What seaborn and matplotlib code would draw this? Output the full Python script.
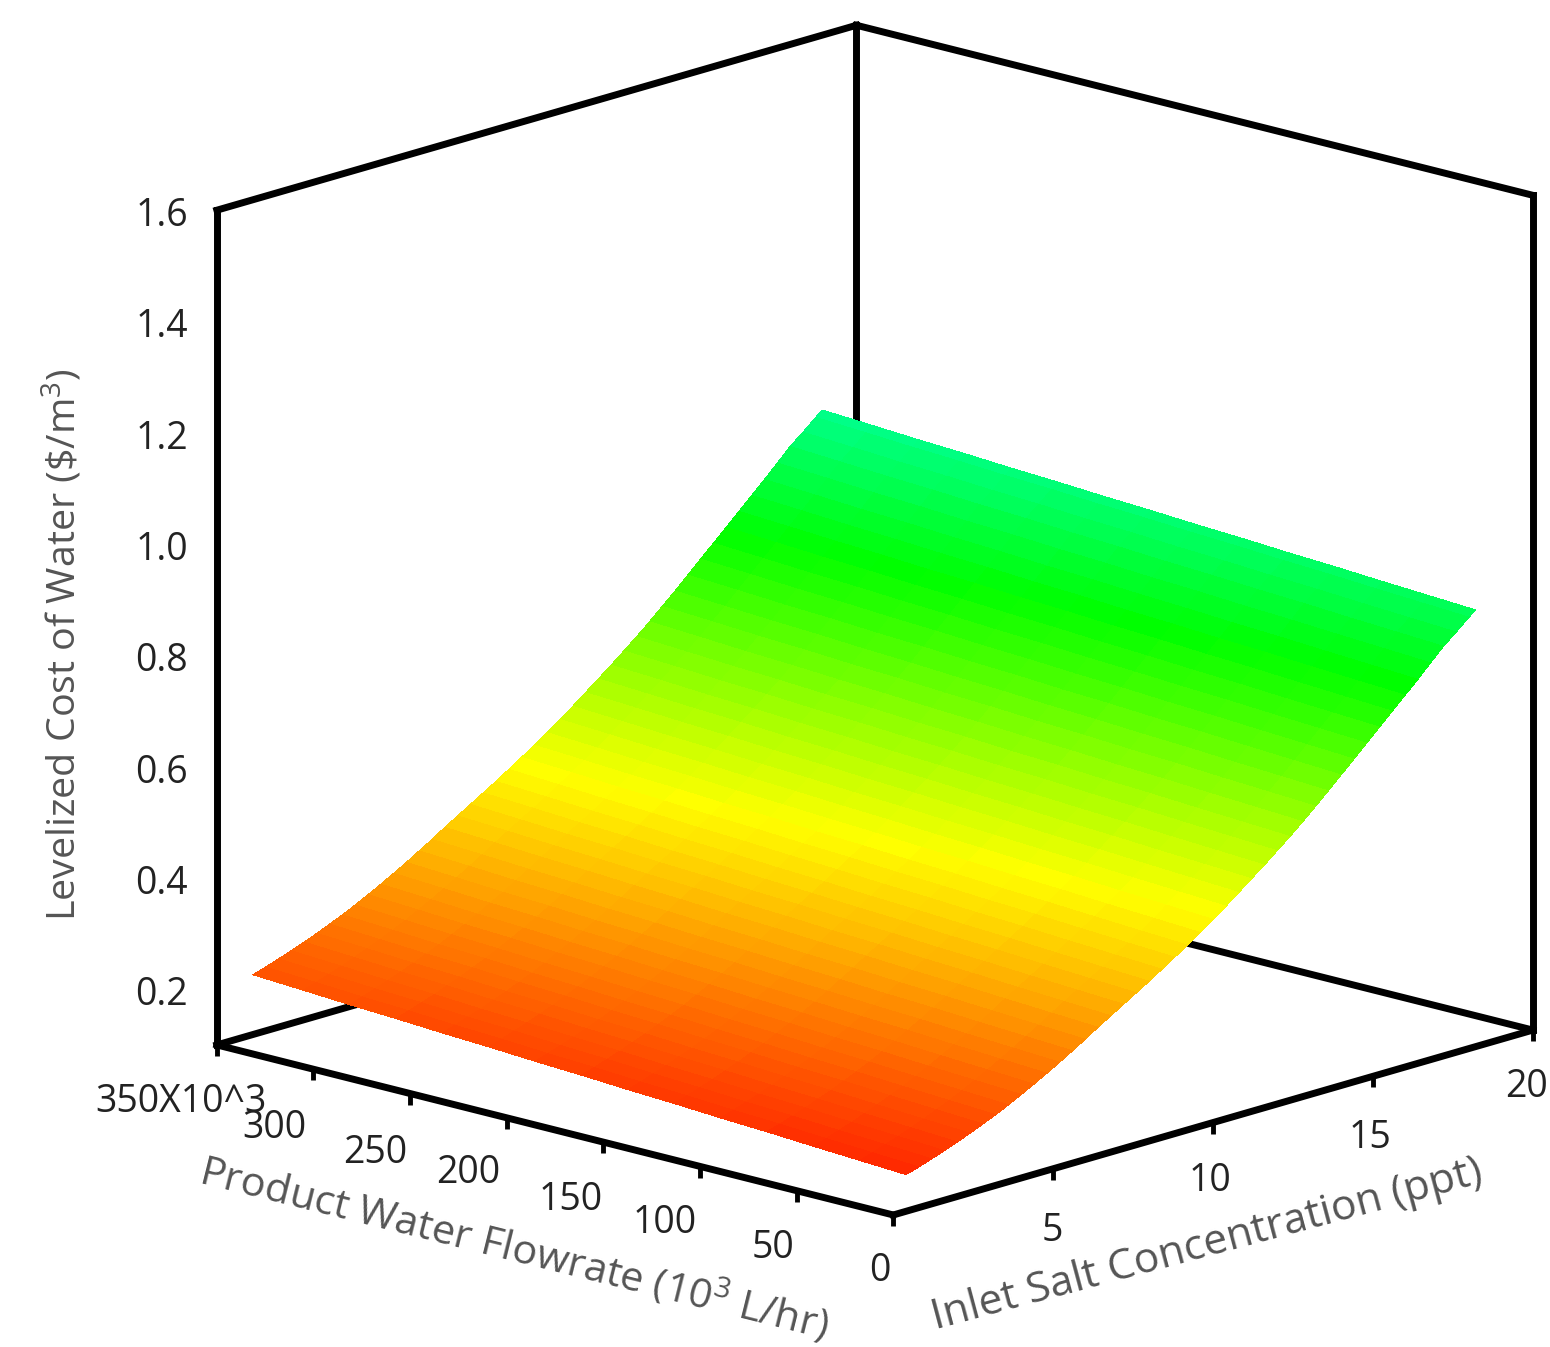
import matplotlib
matplotlib.use("Agg")
import matplotlib.pyplot as plt
import numpy as np
import seaborn as sns
from matplotlib.colors import Normalize
from mpl_toolkits.mplot3d import proj3d

# ---- data ----
salt_ppt = [0.4, 0.8, 1.2, 1.6, 2.0, 2.4, 2.8, 3.2, 3.6, 4.0, 4.4, 4.8, 5.2, 5.6, 6.0, 6.4,
            6.8, 7.2, 7.6, 8.0, 8.4, 8.8, 9.2, 9.6, 10.0, 10.4, 10.8, 11.2, 11.6, 12.0, 12.4,
            12.8, 13.2, 13.6, 14.0, 14.4, 14.8, 15.2, 15.6, 16.0, 16.4, 16.8, 17.2, 17.6, 18.0, 18.2]
# cost along the low-flow edge of the surface
lcow_low_flow_edge = [.166, .173, .181, .189, .198, .207, .217, .227, .238, .250, .262, .275, .288, .302, .316, .331,
                      .345, .359, .373, .387, .402, .417, .432, .448, .465, .482, .500, .518, .536, .555, .574,
                      .594, .615, .636, .658, .680, .702, .724, .746, .768, .790, .813, .836, .855, .875, .885]
flow_lph = [0, 24, 48, 72, 96, 120, 144, 168, 192, 216, 240, 264, 288, 312, 338]
# rise of the cost above that edge at each flow rate
lcow_rise_with_flow = [0, .0045, .009, .014, .018, .023, .027, .032, .036, .041, .045, .050, .054, .059, .064]

flow_ticks = [0, 50, 100, 150, 200, 250, 300, 350]
flow_tick_labels = ["0", "50", "100", "150", "200", "250", "300", "350X10^3"]
salt_ticks = [5, 10, 15, 20]
lcow_ticks = [0.2, 0.4, 0.6, 0.8, 1.0, 1.2, 1.4, 1.6]
flow_lim = (350, 0)
salt_lim = (0, 20)
lcow_lim = (0.1, 1.6)
ramp_colors = ["#ff2000", "#ffff00", "#00ff00", "#00ffff"]
ramp_range = (0.15, 1.08)

W, H = 1550, 1347
sns.set_theme(style="white")
plt.rcParams["font.family"] = ["Open Sans", "DejaVu Sans"]
plt.rcParams["mathtext.fontset"] = "custom"
plt.rcParams["mathtext.rm"] = "Open Sans"
plt.rcParams["mathtext.default"] = "rm"

fig = plt.figure(figsize=(W / 100, H / 100), dpi=100, facecolor="white")
ax = fig.add_axes([0.0, 0.0, H / W, 1.0], projection="3d", computed_zorder=False)
ax.set_proj_type("ortho")
ax.view_init(elev=15.64, azim=-47)
ax.set_box_aspect((925, 938, 867))
ax.set_xlim(*flow_lim, view_margin=0)
ax.set_ylim(*salt_lim, view_margin=0)
ax.set_zlim(*lcow_lim, view_margin=0)
ax.set_axis_off()
ax.patch.set_alpha(0)


def to_px(x, y, z):
    xs, ys, _ = proj3d.proj_transform(x, y, z, ax.get_proj())
    dx, dy = ax.transData.transform((xs, ys))
    return dx, H - dy


def px_text(x, y, s, **kw):
    return fig.text(x / W, 1 - y / H, s, **kw)


# fit the box to the frame corners of the reference
for _ in range(3):
    fig.canvas.draw()
    left = np.array(to_px(350, 0, 0.1))
    right = np.array(to_px(0, 20, 0.1))
    span = right[0] - left[0]
    pos = ax.get_position()
    scale = 1316 / span
    w_px = pos.width * W * scale
    h_px = pos.height * H * scale
    cx = pos.x0 * W + pos.width * W / 2
    cy = pos.y0 * H + pos.height * H / 2
    ax.set_position([(cx - w_px / 2) / W, (cy - h_px / 2) / H, w_px / W, h_px / H])
    fig.canvas.draw()
    left = np.array(to_px(350, 0, 0.1))
    front = np.array(to_px(0, 0, 0.1))
    right = np.array(to_px(0, 20, 0.1))
    got = (left + front + right) / 3
    want = np.array([(217 + 893 + 1533) / 3, (1045 + 1215 + 1030) / 3])
    shift = want - got
    pos = ax.get_position()
    ax.set_position([pos.x0 + shift[0] / W, pos.y0 - shift[1] / H, pos.width, pos.height])

LW = 5.0
frame = dict(color="black", lw=LW, solid_capstyle="projecting", solid_joinstyle="miter")
# behind the surface
ax.plot([350, 350], [0, 20], [0.1, 0.1], zorder=1, **frame)
ax.plot([350, 0], [20, 20], [0.1, 0.1], zorder=1, **frame)
ax.plot([350, 350], [20, 20], [0.1, 1.6], zorder=1, **frame)
ax.plot([350, 350], [0, 0], [0.1, 1.6], zorder=1, **frame)
ax.plot([0, 0], [20, 20], [0.1, 1.6], zorder=1, **frame)
ax.plot([350, 350], [0, 20], [1.6, 1.6], zorder=1, **frame)
ax.plot([350, 0], [20, 20], [1.6, 1.6], zorder=1, **frame)
# front axes
ax.plot([350, 0], [0, 0], [0.1, 0.1], zorder=2, **frame)
ax.plot([0, 0], [0, 20], [0.1, 0.1], zorder=2, **frame)

# ticks
tick = dict(color="black", lw=3.5, solid_capstyle="butt")
for v in flow_ticks:
    ax.plot([v, v], [0, 0], [0.1, 0.08], zorder=2, **tick)
for v in salt_ticks:
    ax.plot([0, 0], [v, v], [0.1, 0.08], zorder=2, **tick)

# surface
X, Y = np.meshgrid(flow_lph, salt_ppt)
Z = np.add.outer(lcow_low_flow_edge, lcow_rise_with_flow)
cmap = sns.blend_palette(ramp_colors, as_cmap=True)
norm = Normalize(*ramp_range)
ax.plot_surface(X, Y, Z, rstride=1, cstride=1, facecolors=cmap(norm(Z)), shade=False,
                linewidth=0, antialiased=False, zorder=3)

# tick labels
TICK_FS = 27
flow_off = [(-13, 56), (-24, 57), (-35, 57), (-33, 58), (-39, 55), (-35, 59), (-39, 59), (-36, 57)]
for v, lab, (ox, oy) in zip(flow_ticks, flow_tick_labels, flow_off):
    px, py = to_px(v, 0, 0.1)
    px_text(px + ox, py + oy, lab, fontsize=TICK_FS, color="#222222", ha="center", va="center", zorder=5)
salt_off = [(-1, 62), (-3, 58), (-3, 62), (-6, 57)]
for v, (ox, oy) in zip(salt_ticks, salt_off):
    px, py = to_px(0, v, 0.1)
    px_text(px + ox, py + oy, str(v), fontsize=TICK_FS, color="#222222", ha="center", va="center")
for v in lcow_ticks:
    px, py = to_px(350, 0, v)
    px_text(px - 29, py + 6, f"{v:.1f}", fontsize=TICK_FS, color="#222222", ha="right", va="center")

# axis titles
px_text(63, 645, r"Levelized Cost of Water (\$/m$^{3}$)", fontsize=28.4, color="#555555",
        rotation=90, ha="center", va="center")
px_text(514, 1249, r"Product Water Flowrate (10$^{3}$ L/hr)", fontsize=29.8, color="#555555",
        rotation=-14, ha="center", va="center", rotation_mode="anchor")
px_text(1207, 1245, "Inlet Salt Concentration (ppt)", fontsize=30.6, color="#555555",
        rotation=15, ha="center", va="center", rotation_mode="anchor")

fig.savefig("out.png", dpi=100)
